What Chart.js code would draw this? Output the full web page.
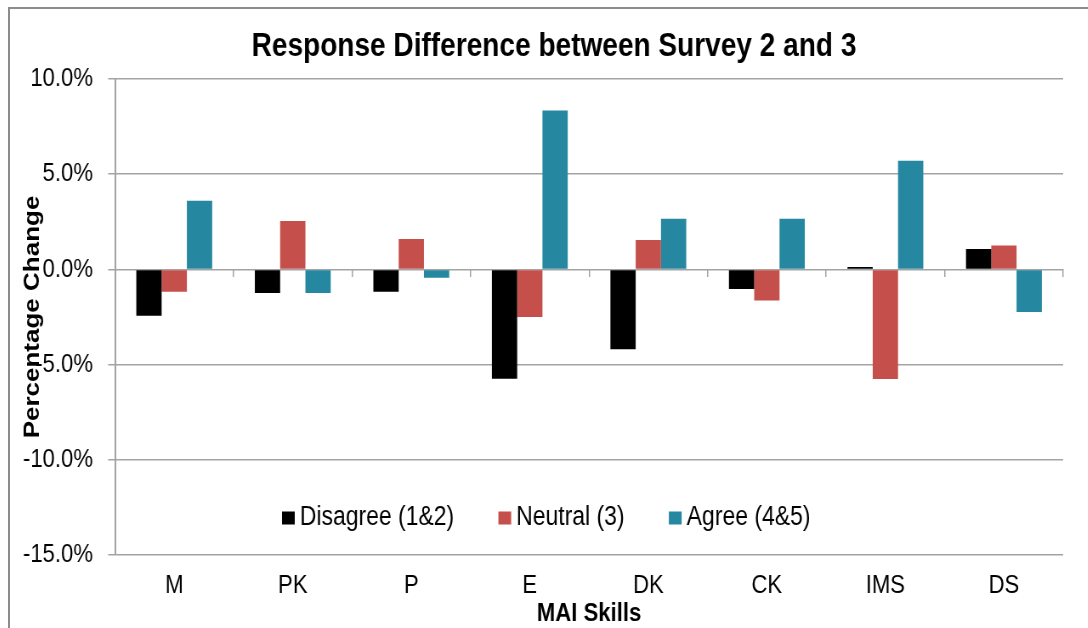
<!DOCTYPE html>
<html>
<head>
<meta charset="utf-8">
<script src="https://cdn.jsdelivr.net/npm/chart.js@4.4.1/dist/chart.umd.min.js"></script>
<style>
  html, body { margin: 0; padding: 0; background: #fff; overflow: hidden; width: 1088px; height: 628px; }
  #frame {
    position: absolute; left: 8px; top: 7px; width: 1200px; height: 700px;
    border: 2px solid #8c8c8c;
  }
  #wrap {
    position: absolute; left: 10px; top: 10px; width: 1280px; height: 620px;
    transform: scaleX(0.85); transform-origin: 0 0;
  }
</style>
</head>
<body>
<div id="frame"></div>
<div id="wrap"><canvas id="chart"></canvas></div>
<script>
// Data (percentage points)
const categories = ['M', 'PK', 'P', 'E', 'DK', 'CK', 'IMS', 'DS'];
const seriesLabels = ['Disagree (1&2)', 'Neutral (3)', 'Agree (4&5)'];
const disagree = [-2.43, -1.24, -1.17, -5.74, -4.20, -1.03, 0.12, 1.07];
const neutral = [-1.17, 2.54, 1.60, -2.50, 1.54, -1.63, -5.76, 1.26];
const agree = [3.60, -1.24, -0.44, 8.34, 2.66, 2.66, 5.71, -2.24];
const yTicks = [-15, -10, -5, 0, 5, 10];

const colors = ['#000000', '#c5504b', '#2587a0'];
const gridColor = '#a3a3a3';

Chart.defaults.font.family = '"Liberation Sans", Arial, sans-serif';
Chart.defaults.color = '#000';

// Legend drawn inside the plot area, like the original
const insideLegend = {
    id: 'insideLegend',
    afterDraw(chart) {
        const ctx = chart.ctx;
        ctx.save();
        ctx.font = '27px "Liberation Sans", Arial, sans-serif';
        ctx.textBaseline = 'middle';
        let x = 320;
        const y = 508;
        chart.data.datasets.forEach(ds => {
            ctx.fillStyle = ds.backgroundColor;
            ctx.fillRect(x, y - 6.5, 15, 13);
            x += 21;
            ctx.fillStyle = '#000';
            ctx.fillText(ds.label, x, y);
            x += ctx.measureText(ds.label).width + 52;
        });
        ctx.restore();
    }
};

const datasets = [disagree, neutral, agree].map((data, i) => ({
    label: seriesLabels[i],
    data,
    backgroundColor: colors[i],
    borderWidth: 0,
    categoryPercentage: 0.64,
    barPercentage: 1.0,
    xAxisID: 'x'
}));

new Chart(document.getElementById('chart'), {
    type: 'bar',
    data: { labels: categories, datasets },
    options: {
        responsive: true,
        maintainAspectRatio: false,
        animation: false,
        layout: { padding: 0 },
        plugins: {
            legend: { display: false },
            tooltip: { enabled: false },
            title: {
                display: true,
                text: 'Response Difference between Survey 2 and 3',
                font: { size: 33, weight: 'bold' },
                color: '#000',
                padding: { top: 17, bottom: 12.4 }
            }
        },
        scales: {
            x: {
                position: 'bottom',
                offset: true,
                grid: { display: false, drawTicks: false },
                border: { display: false },
                ticks: { font: { size: 26 }, padding: 15.4, maxRotation: 0 },
                title: {
                    display: true,
                    text: 'MAI Skills',
                    font: { size: 26, weight: 'bold' },
                    padding: { top: 0, bottom: 0.4 }
                },
                afterFit: scale => { scale.height = 75; }
            },
            x0: {
                type: 'category',
                labels: categories,
                position: { y: 0 },
                offset: true,
                grid: { offset: true, drawOnChartArea: false, drawTicks: true, tickLength: 8, color: gridColor, lineWidth: 1.5 },
                border: { display: false },
                ticks: { display: false }
            },
            y: {
                min: -15,
                max: 10,
                afterBuildTicks: scale => { scale.ticks = yTicks.map(v => ({ value: v })); },
                grid: { color: gridColor, lineWidth: 1.5, tickLength: 8 },
                border: { color: gridColor, width: 2 },
                ticks: {
                    font: { size: 26 },
                    padding: 17.9,
                    callback: v => v.toFixed(1) + '%'
                },
                title: {
                    display: true,
                    text: 'Percentage Change',
                    font: { size: 26, weight: 'bold' },
                    padding: { top: 11.4, bottom: 0 }
                },
                afterFit: scale => { scale.width = 123.5; }
            },
            // empty right-hand box that leaves the margin right of the plot
            yPad: {
                type: 'linear',
                position: 'right',
                min: -15,
                max: 10,
                grid: { drawOnChartArea: false, drawTicks: false, display: false },
                border: { display: false },
                ticks: { display: false },
                afterFit: scale => { scale.width = 41; }
            }
        }
    },
    plugins: [insideLegend]
});
</script>
</body>
</html>
